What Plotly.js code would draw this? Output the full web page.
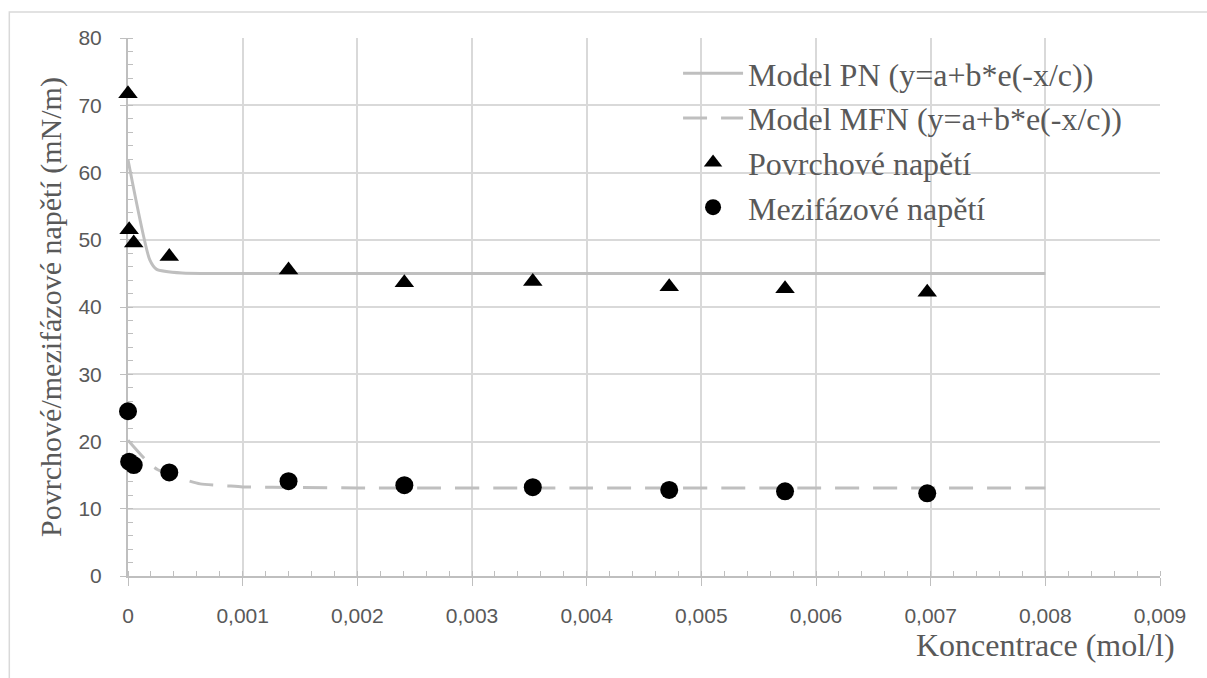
<!DOCTYPE html>
<html><head><meta charset="utf-8">
<script src="https://cdn.plot.ly/plotly-3.0.1.min.js"></script>
<style>html,body{margin:0;padding:0;background:#fff}</style>
</head><body>
<div id="chart" style="width:1207px;height:678px"></div>
<script>
// measured data
const concPN = [0, 0.00001, 0.00005, 0.00036, 0.0014, 0.00241, 0.00353, 0.00472, 0.00573, 0.00697];
const povrchove = [71.7, 51.5, 49.5, 47.5, 45.5, 43.6, 43.8, 43.0, 42.7, 42.2];
const concMFN = [0, 0.00001, 0.00005, 0.00036, 0.0014, 0.00241, 0.00353, 0.00472, 0.00573, 0.00697];
const mezifazove = [24.5, 17.0, 16.5, 15.4, 14.1, 13.5, 13.2, 12.8, 12.6, 12.3];
// model curves
const modelPNx = [0, 0.00019, 0.00025, 0.00047, 0.001, 0.002, 0.004, 0.006, 0.008];
const modelPNy = [61.9, 47.0, 45.6, 45.05, 45.0, 45.0, 45.0, 45.0, 45.0];
const modelMFNx = [0, 0.00017, 0.00026, 0.0005, 0.00063, 0.00087, 0.001, 0.0015, 0.002, 0.004, 0.006, 0.008];
const modelMFNy = [20.2, 17.0, 15.8, 14.3, 13.7, 13.4, 13.25, 13.15, 13.1, 13.1, 13.1, 13.1];
const xTicks = [0, 0.001, 0.002, 0.003, 0.004, 0.005, 0.006, 0.007, 0.008, 0.009];
const xTickText = ['0', '0,001', '0,002', '0,003', '0,004', '0,005', '0,006', '0,007', '0,008', '0,009'];
const yTicks = [0, 10, 20, 30, 40, 50, 60, 70, 80];

const serif = 'Liberation Serif, Times New Roman, serif';
const tickFont = {family: 'Liberation Sans, Arial, sans-serif', size: 21, color: '#595959'};

const traces = [
  {x: modelPNx, y: modelPNy, mode: 'lines', name: 'Model PN (y=a+b*e(-x/c))',
   line: {color: '#bfbfbf', width: 3, shape: 'spline', smoothing: 0.6}},
  {x: modelMFNx, y: modelMFNy, mode: 'lines', name: 'Model MFN (y=a+b*e(-x/c))',
   line: {color: '#bfbfbf', width: 3, dash: '24px,14px', shape: 'spline', smoothing: 0.6}},
  {x: concPN, y: povrchove, mode: 'markers', name: 'Povrchové napětí', cliponaxis: false,
   marker: {symbol: 'triangle-up', size: 17, color: '#000'}},
  {x: concMFN, y: mezifazove, mode: 'markers', name: 'Mezifázové napětí', cliponaxis: false,
   marker: {symbol: 'circle', size: 18, color: '#000'}}
];

const layout = {
  width: 1207, height: 678,
  margin: {l: 128, r: 47, t: 38, b: 102},
  paper_bgcolor: '#fff', plot_bgcolor: '#fff',
  showlegend: true,
  legend: {x: 0.533, y: 0.985, xanchor: 'left', yanchor: 'top', bgcolor: 'rgba(0,0,0,0)',
    font: {family: serif, size: 32, color: '#595959'}, tracegroupgap: 0, itemwidth: 60},
  xaxis: {range: [0, 0.009], tickvals: xTicks, ticktext: xTickText, tickfont: tickFont,
    showgrid: true, gridcolor: '#d9d9d9', gridwidth: 2, zeroline: false,
    showline: true, linecolor: '#bfbfbf', linewidth: 2, layer: 'below traces',
    ticks: 'outside', ticklen: 8, tickcolor: '#bfbfbf', tickwidth: 1, ticklabelstandoff: 12,
    minor: {dtick: 0.0002, ticks: 'inside', ticklen: 5, tickcolor: '#bfbfbf', showgrid: false},
    fixedrange: true},
  yaxis: {range: [0, 80], tickvals: yTicks, tickfont: tickFont,
    showgrid: true, gridcolor: '#d9d9d9', gridwidth: 2, zeroline: false,
    showline: true, linecolor: '#bfbfbf', linewidth: 2, layer: 'below traces',
    ticks: 'outside', ticklen: 6, tickcolor: '#bfbfbf', ticklabelstandoff: 14,
    minor: {dtick: 2, ticks: 'inside', ticklen: 5, tickcolor: '#bfbfbf', showgrid: false},
    title: {text: 'Povrchové/mezifázové napětí (mN/m)', font: {family: serif, size: 30, color: '#595959'}, standoff: 8},
    fixedrange: true},
  annotations: [{text: 'Koncentrace (mol/l)', xref: 'paper', yref: 'paper',
    x: 1.0165, y: -0.128, xanchor: 'right', yanchor: 'middle', showarrow: false,
    font: {family: serif, size: 32, color: '#595959'}}],
  shapes: [{type: 'rect', xref: 'paper', yref: 'paper', x0: -0.115, x1: 1.2, y0: -0.3, y1: 1.0483,
    line: {color: '#d9d9d9', width: 1.5}, fillcolor: 'rgba(0,0,0,0)', layer: 'below'}]
};
Plotly.newPlot('chart', traces, layout, {displayModeBar: false, staticPlot: true});
</script>
</body></html>
